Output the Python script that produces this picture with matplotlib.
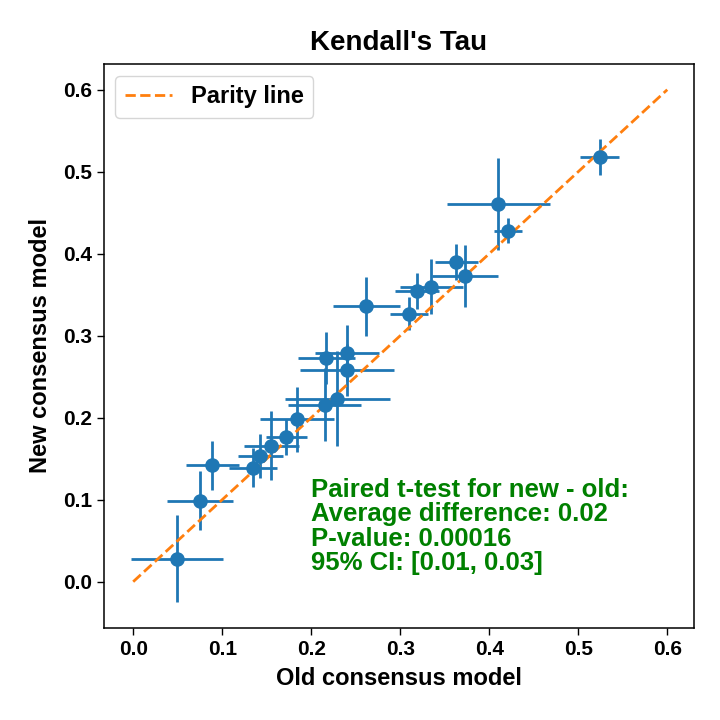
import numpy as np
import matplotlib
matplotlib.use("Agg")
import matplotlib.pyplot as plt

plt.rcParams['font.family'] = ['Liberation Sans', 'DejaVu Sans']
plt.rcParams['font.weight'] = 'bold'

# Kendall's tau per target: old vs new consensus model, with CI half-widths
old_tau = [0.049, 0.075, 0.089, 0.135, 0.143, 0.155, 0.172, 0.184, 0.215, 0.229, 0.217,
           0.240, 0.240, 0.262, 0.310, 0.319, 0.335, 0.363, 0.373, 0.410, 0.421, 0.524]
new_tau = [0.028, 0.099, 0.142, 0.139, 0.153, 0.166, 0.176, 0.198, 0.216, 0.223, 0.273,
           0.279, 0.258, 0.336, 0.327, 0.355, 0.360, 0.390, 0.373, 0.461, 0.428, 0.518]
old_err = [0.052, 0.037, 0.030, 0.027, 0.025, 0.031, 0.023, 0.042, 0.041, 0.059, 0.032,
           0.036, 0.053, 0.038, 0.021, 0.025, 0.035, 0.024, 0.037, 0.058, 0.016, 0.022]
new_err = [0.053, 0.036, 0.030, 0.024, 0.027, 0.042, 0.022, 0.040, 0.045, 0.058, 0.032,
           0.034, 0.032, 0.036, 0.020, 0.022, 0.033, 0.022, 0.038, 0.056, 0.015, 0.022]
parity = [0.0, 0.6]

stats_text = ("Paired t-test for new - old:\n"
              "Average difference: 0.02\n"
              "P-value: 0.00016\n"
              "95% CI: [0.01, 0.03]")

fig = plt.figure(figsize=(7.2, 7.2), dpi=100)
ax = fig.add_axes([0.144, 0.128, 0.820, 0.783])

ax.errorbar(old_tau, new_tau, xerr=old_err, yerr=new_err, fmt='o',
            color='#1f77b4', markersize=9.5, elinewidth=2, capsize=0)
ax.plot(parity, parity, '--', color='#ff7f0e', linewidth=2, label='Parity line')

ax.text(0.2, 0.008, stats_text, color='green', fontsize=18.5, fontweight='bold',
        ha='left', va='bottom', linespacing=1.02)

ax.set_title("Kendall's Tau", fontsize=20, fontweight='bold', pad=10)
ax.set_xlabel("Old consensus model", fontsize=17, fontweight='bold', labelpad=6)
ax.set_ylabel("New consensus model", fontsize=17, fontweight='bold', labelpad=8)
ax.tick_params(labelsize=15, length=5, width=1)
for s in ax.spines.values():
    s.set_linewidth(1.1)
ax.legend(loc='upper left', fontsize=17, borderaxespad=0.5)

fig.savefig("out.png", dpi=100)
